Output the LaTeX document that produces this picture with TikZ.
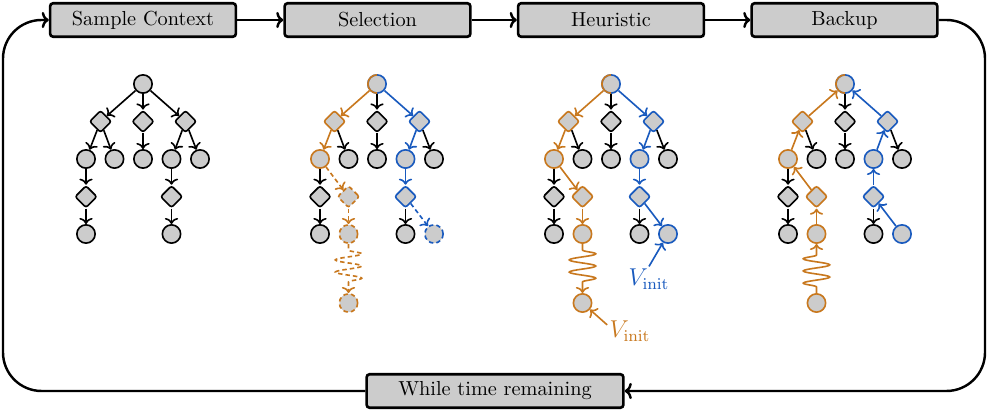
\documentclass[tikz,border=0pt]{standalone}
\usetikzlibrary{shapes.geometric,arrows.meta,decorations.pathmorphing}
\definecolor{oc}{RGB}{200,120,30}
\definecolor{bc}{RGB}{25,90,190}
\definecolor{fillg}{gray}{0.8}
\begin{document}
\begin{tikzpicture}[x=0.4926pt,y=-0.4926pt,
 box/.style={draw, line width=1.3pt, fill=fillg, rounded corners=1.5pt, minimum width=91.5pt, minimum height=16.5pt, inner sep=0pt},
 loopline/.style={line width=1.2pt, -{To[width=8pt,length=3.5pt]}},
 cn/.style={circle, draw, fill=fillg, minimum size=9pt, inner sep=0pt, line width=0.8pt},
 dn/.style={diamond, draw, fill=fillg, minimum size=11pt, inner sep=0pt, line width=0.8pt, rounded corners=1.2pt},
 ed/.style={line width=0.8pt, -{To[width=6.5pt,length=3pt]}},
 dsh/.style={dash pattern=on 2.2pt off 1.5pt},
 snk/.style={decorate, decoration={snake, amplitude=6.5pt, segment length=6pt, pre length=3pt, post length=4pt}},
 lbl/.style={font=\large, inner sep=1pt},
]
\useasboundingbox (0,0) rectangle (988,413);

% process boxes
\node[box] (S1) at (143,20) {Sample Context};
\node[box] (S2) at (377.5,20) {Selection};
\node[box] (S3) at (611,20) {Heuristic};
\node[box] (S4) at (844.5,20) {Backup};
\node[box, minimum width=126.5pt] (W) at (495,391) {While time remaining};
\draw[loopline] (S1) -- (S2);
\draw[loopline] (S2) -- (S3);
\draw[loopline] (S3) -- (S4);
\draw[loopline, rounded corners=19pt] (S4.east) -- (985,20) -- (985,391) -- (W.east);
\draw[loopline, rounded corners=19pt] (W.west) -- (3,391) -- (3,20) -- (S1.west);

% ---------- Tree 1: Sample Context ----------
\begin{scope}[shift={(143,0)}]
\node[cn] (Ar) at (0,84) {};
\node[dn] (Aa) at (-42.5,121.5) {};
\node[dn] (Ab) at (0,121.5) {};
\node[dn] (Ac) at (42.5,121.5) {};
\node[cn] (Aaa) at (-57,159) {};
\node[cn] (Aab) at (-28.5,159) {};
\node[cn] (Aba) at (0,159) {};
\node[cn] (Aca) at (28.5,159) {};
\node[cn] (Acb) at (57,159) {};
\node[dn] (Aaaa) at (-57,196.7) {};
\node[dn] (Acaa) at (28.5,196.7) {};
\node[cn] (Aaaaa) at (-57,234) {};
\node[cn] (Acaaa) at (28.5,234) {};
\end{scope}
\draw[ed] (Ar) -- (Aa);
\draw[ed] (Ar) -- (Ab);
\draw[ed] (Ar) -- (Ac);
\draw[ed] (Aa) -- (Aaa);
\draw[ed] (Aa) -- (Aab);
\draw[ed] (Ab) -- (Aba);
\draw[ed] (Ac) -- (Aca);
\draw[ed] (Ac) -- (Acb);
\draw[ed] (Aaa) -- (Aaaa);
\draw[ed] (Aaaa) -- (Aaaaa);
\draw[ed] (Aca) -- (Acaa);
\draw[ed] (Acaa) -- (Acaaa);

% ---------- Tree 2: Selection ----------
\begin{scope}[shift={(377,0)}]
\node[cn, draw=bc] (Br) at (0,84) {};
\node[dn, draw=oc] (Ba) at (-42.5,121.5) {};
\node[dn] (Bb) at (0,121.5) {};
\node[dn, draw=bc] (Bc) at (42.5,121.5) {};
\node[cn, draw=oc] (Baa) at (-57,159) {};
\node[cn] (Bab) at (-28.5,159) {};
\node[cn] (Bba) at (0,159) {};
\node[cn, draw=bc] (Bca) at (28.5,159) {};
\node[cn] (Bcb) at (57,159) {};
\node[dn] (Baaa) at (-57,196.7) {};
\node[dn, draw=oc, dsh] (Baab) at (-28.5,196.7) {};
\node[dn, draw=bc] (Bcaa) at (28.5,196.7) {};
\node[cn] (Baaaa) at (-57,234) {};
\node[cn, draw=oc, dsh] (Baaba) at (-28.5,234) {};
\node[cn] (Bcaaa) at (28.5,234) {};
\node[cn, draw=bc, dsh] (Bcaab) at (57,234) {};
\node[cn, draw=oc, dsh] (Bsnk) at (-28.5,303) {};
\end{scope}
\begin{scope}
\clip ([xshift=-8pt,yshift=8pt]Br.center) rectangle ([yshift=-8pt]Br.center);
\draw[oc, line width=0.8pt] (Br.center) circle[radius=4.5pt];
\end{scope}
\draw[ed, oc] (Br) -- (Ba);
\draw[ed] (Br) -- (Bb);
\draw[ed, bc] (Br) -- (Bc);
\draw[ed, oc] (Ba) -- (Baa);
\draw[ed] (Ba) -- (Bab);
\draw[ed] (Bb) -- (Bba);
\draw[ed, bc] (Bc) -- (Bca);
\draw[ed] (Bc) -- (Bcb);
\draw[ed] (Baa) -- (Baaa);
\draw[ed] (Baaa) -- (Baaaa);
\draw[ed, oc, dsh] (Baa) -- (Baab);
\draw[ed, oc, dsh] (Baab) -- (Baaba);
\draw[ed, oc, dsh, snk] (Baaba) -- (Bsnk);
\draw[ed, bc] (Bca) -- (Bcaa);
\draw[ed] (Bcaa) -- (Bcaaa);
\draw[ed, bc, dsh] (Bcaa) -- (Bcaab);

% ---------- Tree 3: Heuristic ----------
\begin{scope}[shift={(611,0)}]
\node[cn, draw=bc] (Cr) at (0,84) {};
\node[dn, draw=oc] (Ca) at (-42.5,121.5) {};
\node[dn] (Cb) at (0,121.5) {};
\node[dn, draw=bc] (Cc) at (42.5,121.5) {};
\node[cn, draw=oc] (Caa) at (-57,159) {};
\node[cn] (Cab) at (-28.5,159) {};
\node[cn] (Cba) at (0,159) {};
\node[cn, draw=bc] (Cca) at (28.5,159) {};
\node[cn] (Ccb) at (57,159) {};
\node[dn] (Caaa) at (-57,196.7) {};
\node[dn, draw=oc] (Caab) at (-28.5,196.7) {};
\node[dn, draw=bc] (Ccaa) at (28.5,196.7) {};
\node[cn] (Caaaa) at (-57,234) {};
\node[cn, draw=oc] (Caaba) at (-28.5,234) {};
\node[cn] (Ccaaa) at (28.5,234) {};
\node[cn, draw=bc] (Ccaab) at (57,234) {};
\node[cn, draw=oc] (Csnk) at (-28.5,303) {};
\end{scope}
\begin{scope}
\clip ([xshift=-8pt,yshift=8pt]Cr.center) rectangle ([yshift=-8pt]Cr.center);
\draw[oc, line width=0.8pt] (Cr.center) circle[radius=4.5pt];
\end{scope}
\draw[ed, oc] (Cr) -- (Ca);
\draw[ed] (Cr) -- (Cb);
\draw[ed, bc] (Cr) -- (Cc);
\draw[ed, oc] (Ca) -- (Caa);
\draw[ed] (Ca) -- (Cab);
\draw[ed] (Cb) -- (Cba);
\draw[ed, bc] (Cc) -- (Cca);
\draw[ed] (Cc) -- (Ccb);
\draw[ed] (Caa) -- (Caaa);
\draw[ed] (Caaa) -- (Caaaa);
\draw[ed, oc] (Caa) -- (Caab);
\draw[ed, oc] (Caab) -- (Caaba);
\draw[ed, oc, snk] (Caaba) -- (Csnk);
\draw[ed, bc] (Cca) -- (Ccaa);
\draw[ed] (Ccaa) -- (Ccaaa);
\draw[ed, bc] (Ccaa) -- (Ccaab);
\node[lbl, text=oc] (Vo) at (630,331) {$V_{\mathrm{init}}$};
\node[lbl, text=bc] (Vb) at (649,279) {$V_{\mathrm{init}}$};
\draw[ed, oc] (Vo.165) -- (Csnk);
\draw[ed, bc] (Vb.north) -- (Ccaab);

% ---------- Tree 4: Backup ----------
\begin{scope}[shift={(845,0)}]
\node[cn, draw=bc] (Dr) at (0,84) {};
\node[dn, draw=oc] (Da) at (-42.5,121.5) {};
\node[dn] (Db) at (0,121.5) {};
\node[dn, draw=bc] (Dc) at (42.5,121.5) {};
\node[cn, draw=oc] (Daa) at (-57,159) {};
\node[cn] (Dab) at (-28.5,159) {};
\node[cn] (Dba) at (0,159) {};
\node[cn, draw=bc] (Dca) at (28.5,159) {};
\node[cn] (Dcb) at (57,159) {};
\node[dn] (Daaa) at (-57,196.7) {};
\node[dn, draw=oc] (Daab) at (-28.5,196.7) {};
\node[dn, draw=bc] (Dcaa) at (28.5,196.7) {};
\node[cn] (Daaaa) at (-57,234) {};
\node[cn, draw=oc] (Daaba) at (-28.5,234) {};
\node[cn] (Dcaaa) at (28.5,234) {};
\node[cn, draw=bc] (Dcaab) at (57,234) {};
\node[cn, draw=oc] (Dsnk) at (-28.5,303) {};
\end{scope}
\begin{scope}
\clip ([xshift=-8pt,yshift=8pt]Dr.center) rectangle ([yshift=-8pt]Dr.center);
\draw[oc, line width=0.8pt] (Dr.center) circle[radius=4.5pt];
\end{scope}
\draw[ed, oc] (Da) -- (Dr);
\draw[ed] (Dr) -- (Db);
\draw[ed, bc] (Dc) -- (Dr);
\draw[ed, oc] (Daa) -- (Da);
\draw[ed] (Da) -- (Dab);
\draw[ed] (Db) -- (Dba);
\draw[ed, bc] (Dca) -- (Dc);
\draw[ed] (Dc) -- (Dcb);
\draw[ed] (Daa) -- (Daaa);
\draw[ed] (Daaa) -- (Daaaa);
\draw[ed, oc] (Daab) -- (Daa);
\draw[ed, oc] (Daaba) -- (Daab);
\draw[ed, oc, snk] (Dsnk) -- (Daaba);
\draw[ed, bc] (Dcaa) -- (Dca);
\draw[ed] (Dcaa) -- (Dcaaa);
\draw[ed, bc] (Dcaab) -- (Dcaa);
\end{tikzpicture}
\end{document}
